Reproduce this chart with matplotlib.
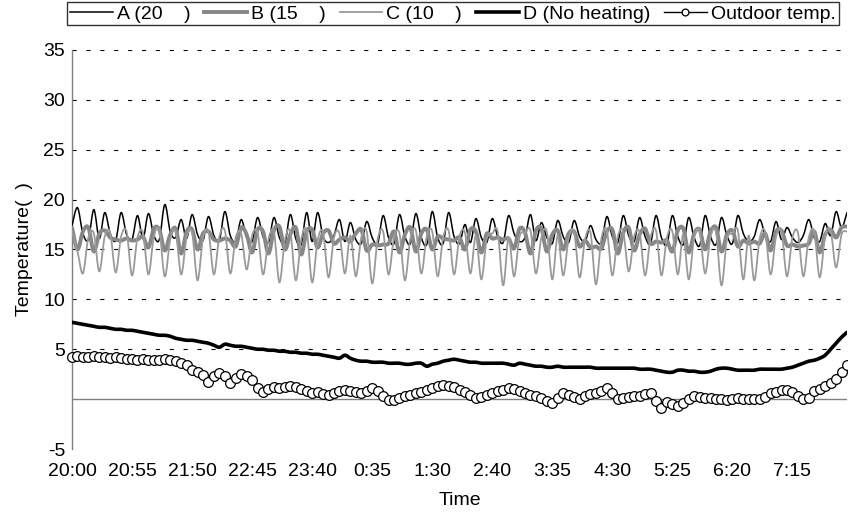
import numpy as np
import matplotlib
matplotlib.use("Agg")
import matplotlib.pyplot as plt
from matplotlib.path import Path
from matplotlib.patches import PathPatch

plt.rcParams['font.family'] = ['Liberation Sans', 'DejaVu Sans']
plt.rcParams['lines.scale_dashes'] = False

# 5-minute readings, 20:00 -> ~8:00
temp_a = [17.4, 19.2, 16.6, 16.0, 19.0, 16.1, 18.7, 16.6, 15.9, 18.7,
          16.5, 16.0, 18.4, 16.1, 18.6, 16.4, 16.0, 19.5, 16.8, 16.2,
          18.0, 16.1, 18.5, 16.5, 15.9, 18.3, 16.4, 15.9, 18.8, 16.4,
          15.8, 18.0, 16.2, 15.8, 18.2, 16.3, 15.7, 18.2, 16.2, 15.6,
          18.5, 16.1, 15.5, 18.7, 15.8, 18.7, 16.3, 15.7, 16.4, 18.0,
          15.8, 17.7, 16.0, 15.6, 17.8, 16.2, 15.6, 18.4, 16.2, 15.6,
          18.5, 16.3, 15.6, 18.6, 16.2, 15.5, 18.8, 16.2, 15.6, 18.7,
          16.3, 15.6, 17.5, 15.7, 18.1, 16.2, 15.7, 18.1, 16.3, 15.7,
          18.4, 16.6, 15.8, 16.2, 18.5, 15.9, 17.7, 16.2, 15.6, 17.9,
          16.3, 15.7, 17.9, 16.3, 15.8, 17.4, 16.0, 15.7, 18.3, 16.3,
          15.7, 18.4, 16.4, 15.8, 18.2, 16.3, 15.6, 18.4, 16.2, 15.5,
          18.4, 16.3, 15.5, 18.2, 16.2, 15.4, 18.4, 16.3, 15.5, 18.2,
          16.4, 15.6, 18.4, 16.6, 15.8, 16.3, 18.0, 16.5, 15.8, 17.8,
          16.0, 17.2, 16.2, 15.7, 16.4, 18.0, 16.2, 15.8, 17.6, 16.4,
          18.8, 17.2, 18.7]

temp_b = [17.2, 15.0, 16.8, 17.2, 14.8, 16.6, 16.9, 16.2, 16.0, 15.9,
          16.1, 15.9, 16.0, 16.3, 15.2, 17.1, 17.0, 14.9, 16.5, 17.1,
          14.6, 16.8, 17.0, 15.0, 16.6, 16.8, 16.0, 15.9, 16.1, 15.9,
          15.3, 17.2, 16.5, 14.7, 17.0, 16.8, 14.6, 16.9, 17.3, 15.0,
          16.5, 17.2, 14.5, 16.8, 17.0, 15.2, 16.6, 16.9, 15.6, 16.0,
          16.2, 15.8, 16.6, 17.0, 14.9, 15.5, 15.4, 15.5, 15.6, 16.8,
          14.7, 16.5, 17.2, 14.8, 16.6, 17.0, 15.0, 16.3, 16.1, 16.0,
          15.9, 16.2, 15.0, 17.0, 16.8, 14.7, 16.6, 16.1, 16.2, 16.0,
          16.1, 15.1, 17.1, 16.7, 14.6, 16.9, 17.1, 14.8, 16.5, 16.9,
          15.0, 16.6, 16.8, 15.3, 15.9, 15.2, 15.3, 15.1, 16.8, 17.0,
          14.6, 16.7, 17.2, 14.9, 16.5, 17.1, 15.6, 15.8, 15.7, 15.9,
          14.8, 16.9, 17.1, 14.7, 16.6, 17.0, 15.0, 16.8, 17.2, 14.8,
          16.5, 16.9, 15.3, 15.9, 15.6, 15.8, 15.6, 16.6, 14.9, 16.8,
          16.9, 15.4, 15.5, 15.3, 15.4, 15.6, 16.8, 14.7, 16.5, 17.0,
          16.2, 17.2, 17.3]

temp_c = [16.8, 14.8, 12.6, 16.2, 16.6, 12.8, 16.3, 16.7, 12.7, 16.3,
          16.8, 12.4, 16.2, 16.7, 12.5, 16.3, 16.9, 12.3, 16.0, 16.8,
          12.5, 16.2, 16.7, 11.9, 16.1, 16.8, 12.5, 16.3, 16.9, 12.6,
          16.2, 16.6, 13.0, 16.4, 16.7, 12.5, 16.0, 16.8, 11.7, 15.9,
          16.8, 11.9, 16.0, 16.9, 11.7, 15.9, 16.7, 12.2, 16.2, 16.6,
          12.6, 16.4, 12.3, 16.2, 16.8, 11.6, 16.0, 16.8, 12.5, 16.2,
          16.6, 11.9, 16.1, 16.9, 12.6, 16.3, 16.8, 12.3, 16.2, 16.9,
          12.5, 16.3, 16.7, 12.6, 16.4, 12.0, 16.1, 16.6, 16.8, 11.4,
          16.2, 12.3, 16.3, 16.7, 16.9, 12.6, 16.2, 16.8, 12.0, 16.4,
          12.4, 16.1, 16.8, 12.2, 16.0, 16.7, 11.5, 16.1, 16.9, 12.4,
          16.3, 16.8, 12.8, 16.3, 16.7, 12.4, 16.2, 16.9, 12.4, 16.2,
          16.8, 12.5, 16.5, 12.0, 16.2, 16.8, 12.6, 16.3, 16.7, 11.4,
          16.0, 16.6, 16.9, 12.0, 16.4, 11.9, 16.1, 16.8, 12.5, 16.3,
          16.8, 12.3, 16.2, 16.7, 12.3, 16.2, 16.8, 12.2, 16.4, 16.9,
          13.2, 16.5, 16.8]

temp_d = [7.7, 7.6, 7.5, 7.4, 7.3, 7.2, 7.2, 7.1, 7.0, 7.0,
          6.9, 6.9, 6.8, 6.7, 6.6, 6.5, 6.4, 6.4, 6.3, 6.1,
          6.0, 5.9, 5.9, 5.8, 5.7, 5.6, 5.4, 5.2, 5.5, 5.4,
          5.3, 5.3, 5.2, 5.1, 5.0, 5.0, 4.9, 4.9, 4.8, 4.8,
          4.7, 4.7, 4.6, 4.6, 4.5, 4.5, 4.4, 4.3, 4.2, 4.1,
          4.4, 4.1, 3.9, 3.8, 3.8, 3.7, 3.7, 3.7, 3.6, 3.6,
          3.6, 3.5, 3.5, 3.6, 3.6, 3.3, 3.5, 3.6, 3.8, 3.9,
          4.0, 3.9, 3.8, 3.7, 3.7, 3.6, 3.6, 3.6, 3.6, 3.6,
          3.5, 3.4, 3.6, 3.5, 3.4, 3.3, 3.3, 3.2, 3.2, 3.3,
          3.2, 3.2, 3.2, 3.2, 3.2, 3.2, 3.1, 3.1, 3.1, 3.1,
          3.1, 3.1, 3.1, 3.1, 3.0, 3.0, 3.0, 2.9, 2.8, 2.7,
          2.7, 2.9, 2.9, 2.8, 2.8, 2.7, 2.7, 2.8, 3.0, 3.1,
          3.1, 3.0, 2.9, 2.9, 2.9, 2.9, 3.0, 3.0, 3.0, 3.0,
          3.0, 3.1, 3.2, 3.4, 3.6, 3.8, 3.9, 4.1, 4.4, 5.0,
          5.6, 6.2, 6.7]

outdoor = [4.2, 4.3, 4.2, 4.2, 4.3, 4.2, 4.2, 4.1, 4.2, 4.1,
           4.0, 4.0, 3.9, 4.0, 3.9, 3.9, 3.9, 4.0, 3.9, 3.8,
           3.6, 3.4, 2.9, 2.7, 2.4, 1.7, 2.3, 2.6, 2.3, 1.6,
           2.1, 2.5, 2.3, 1.9, 1.1, 0.7, 1.0, 1.2, 1.1, 1.2,
           1.3, 1.2, 1.0, 0.8, 0.6, 0.7, 0.5, 0.4, 0.6, 0.8,
           0.9, 0.8, 0.7, 0.6, 0.8, 1.1, 0.8, 0.3, -0.1, -0.1,
           0.1, 0.3, 0.4, 0.6, 0.7, 0.9, 1.1, 1.3, 1.4, 1.3,
           1.2, 0.9, 0.7, 0.4, 0.1, 0.2, 0.4, 0.6, 0.8, 0.9,
           1.1, 1.0, 0.8, 0.6, 0.4, 0.3, 0.1, -0.2, -0.4, 0.1,
           0.6, 0.4, 0.2, 0.0, 0.3, 0.5, 0.6, 0.8, 1.1, 0.6,
           0.0, 0.1, 0.2, 0.3, 0.3, 0.5, 0.6, -0.2, -0.9, -0.3,
           -0.5, -0.7, -0.4, 0.0, 0.3, 0.2, 0.1, 0.1, 0.0, 0.0,
           -0.1, 0.0, 0.1, 0.0, 0.0, 0.0, 0.0, 0.2, 0.6, 0.7,
           0.9, 0.9, 0.7, 0.3, 0.0, 0.1, 0.8, 1.0, 1.3, 1.6,
           2.0, 2.7, 3.4]

time_labels = ["20:00", "20:55", "21:50", "22:45", "23:40", "0:35", "1:30",
               "2:40", "3:35", "4:30", "5:25", "6:20", "7:15"]
y_ticks = [-5, 0, 5, 10, 15, 20, 25, 30, 35]
y_labels = ["-5", "", "5", "10", "15", "20", "25", "30", "35"]

x = np.arange(len(outdoor))


def smooth_line(ax, xs, ys, **kw):
    # spreadsheet-style smoothed line (Catmull-Rom as cubic Bezier)
    pts = np.column_stack([xs, ys]).astype(float)
    verts = [pts[0]]
    codes = [Path.MOVETO]
    n = len(pts)
    for i in range(n - 1):
        p0 = pts[i - 1] if i > 0 else pts[i]
        p1, p2 = pts[i], pts[i + 1]
        p3 = pts[i + 2] if i + 2 < n else pts[i + 1]
        verts += [p1 + (p2 - p0) / 6, p2 - (p3 - p1) / 6, p2]
        codes += [Path.CURVE4] * 3
    patch = PathPatch(Path(verts, codes), fill=False, capstyle='round',
                      joinstyle='round', **kw)
    ax.add_patch(patch)


fig = plt.figure(figsize=(8.48, 5.15), dpi=100)
ax = fig.add_axes([72/848, 1 - 449/515, 775/848, 399/515])

# grid and zero axis
for v in y_ticks[2:]:
    ax.axhline(v, color='black', lw=0.8, dashes=(3, 7), zorder=1)
ax.axhline(-5, color='#c8c8c8', lw=0.8, dashes=(3, 5), zorder=1)
ax.axhline(0, color='#808080', lw=1.0, zorder=1.5)

styles = [
    (temp_a, 'A (20    )', 'black', 1.1),
    (temp_b, 'B (15    )', '#878787', 2.8),
    (temp_c, 'C (10    )', '#9a9a9a', 1.3),
    (temp_d, 'D (No heating)', 'black', 2.6),
]
handles = []
for vals, lab, col, lw in styles:
    smooth_line(ax, x, vals, edgecolor=col, lw=lw, zorder=3)
    h, = ax.plot([], [], color=col, lw=lw, label=lab)
    handles.append(h)

h_out, = ax.plot(x, outdoor, color='black', lw=1.0, marker='o', ms=7,
                 mfc='white', mec='black', mew=0.9, label='Outdoor temp.',
                 zorder=4, clip_on=False)
handles.append(h_out)

ax.set_xlim(0, len(outdoor) - 1)
ax.set_ylim(-5, 35)
ax.set_xticks(np.arange(0, 11 * len(time_labels), 11))
ax.set_xticklabels(time_labels)
ax.set_yticks(y_ticks)
ax.set_yticklabels(y_labels)
ax.tick_params(axis='both', length=0, labelsize=14)
ax.tick_params(axis='x', pad=10)
ax.tick_params(axis='y', pad=5)

for s in ['top', 'right', 'bottom']:
    ax.spines[s].set_visible(False)
ax.spines['left'].set_color('#808080')
ax.spines['left'].set_linewidth(1.0)

ax.set_xlabel('Time', fontsize=14, labelpad=9)
ax.set_ylabel('Temperature(  )', fontsize=14)
ax.yaxis.set_label_coords(-0.05, 0.5)

leg = fig.legend(handles=handles, loc='upper left',
                 bbox_to_anchor=(67/848, 1 - 2/515), ncol=5, fontsize=14,
                 frameon=True, fancybox=False, handlelength=2.2,
                 handletextpad=0.2, columnspacing=0.72, borderpad=0.15,
                 borderaxespad=0, markerscale=0.7, numpoints=1)
leg.get_frame().set_edgecolor('black')
leg.get_frame().set_linewidth(1.0)

fig.savefig('out.png', dpi=100)
